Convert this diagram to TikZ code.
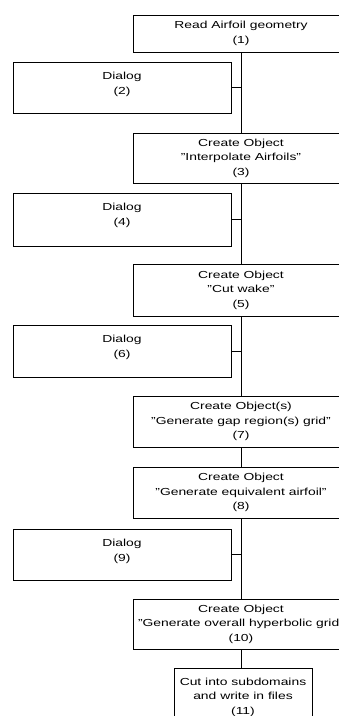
\documentclass[tikz,border=0pt]{standalone}
\usepackage{fontspec}
\setmainfont{Liberation Sans}[FakeStretch=1.36]
\begin{document}
\begin{tikzpicture}[x=1pt,y=-1pt,
  txt/.style={align=center, inner sep=0pt, font=\fontsize{10.2}{14.5}\selectfont},
  mainbox/.style={draw, line width=0.8pt, minimum width=216pt, inner sep=0pt, txt},
  dlgbox/.style={draw, line width=0.8pt, minimum width=218pt, inner sep=0pt},
  conn/.style={line width=0.9pt}]
\useasboundingbox (0,0) rectangle (339,716);
\clip (0,0) rectangle (339,716);
% main column
\node[mainbox, minimum height=37pt] (b1) at (241,33.5) {Read Airfoil geometry\\(1)};
\node[mainbox, minimum height=50pt] (b3) at (241,158) {Create Object\\"Interpolate Airfoils"\\(3)};
\node[mainbox, minimum height=52pt] (b5) at (241,290) {Create Object\\"Cut wake"\\(5)};
\node[mainbox, minimum height=51pt] (b7) at (241,421.5) {Create Object(s)\\\makebox[200pt]{"Generate gap region(s) grid"}\\(7)};
\node[mainbox, minimum height=51pt] (b8) at (241,492.5) {Create Object\\\makebox[200pt]{"Generate equivalent airfoil"}\\(8)};
\node[mainbox, minimum height=50pt] (b10) at (241,624) {Create Object\\\makebox[200pt]{"Generate overall hyperbolic grid"}\\(10)};
\node[draw, line width=0.8pt, minimum width=138pt, minimum height=58pt, inner sep=0pt, txt] (b11) at (243,697) {Cut into subdomains\\and write in files\\(11)};
% dialogs
\node[dlgbox, minimum height=51pt] (d2) at (122,87.5) {};
\node[dlgbox, minimum height=53pt] (d4) at (122,219.5) {};
\node[dlgbox, minimum height=52pt] (d6) at (122,351) {};
\node[dlgbox, minimum height=51pt] (d9) at (122,554.5) {};
\node[txt] (t2) at ([yshift=-23pt]d2.north) {Dialog\\(2)};
\node[txt] (t4) at ([yshift=-23pt]d4.north) {Dialog\\(4)};
\node[txt] (t6) at ([yshift=-23pt]d6.north) {Dialog\\(6)};
\node[txt] (t9) at ([yshift=-23pt]d9.north) {Dialog\\(9)};
% connectors
\draw[conn] (b1.south) -- (b3.north);
\draw[conn] (b3.south) -- (b5.north);
\draw[conn] (b5.south) -- (b7.north);
\draw[conn] (b7.south) -- (b8.north);
\draw[conn] (b8.south) -- (b10.north);
\draw[conn] (b10.south) -- (b10.south |- b11.north);
\draw[conn] (d2.east) -- (d2.east -| b1.south);
\draw[conn] (d4.east) -- (d4.east -| b1.south);
\draw[conn] (d6.east) -- (d6.east -| b1.south);
\draw[conn] (d9.east) -- (d9.east -| b1.south);
\end{tikzpicture}
\end{document}
